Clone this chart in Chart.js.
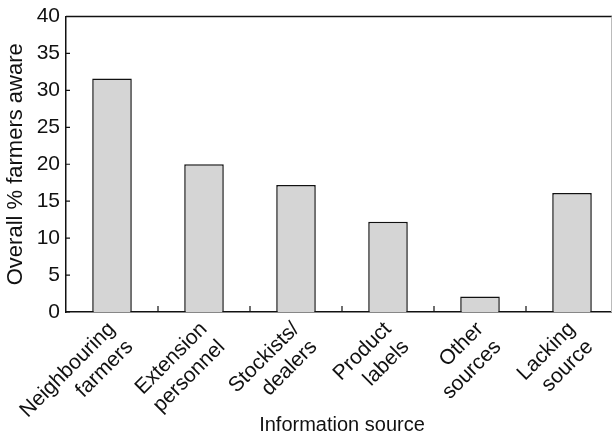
<!DOCTYPE html>
<html>
<head>
<meta charset="utf-8">
<script src="https://cdn.jsdelivr.net/npm/chart.js@4.4.1/dist/chart.umd.min.js"></script>
<style>
    html, body { margin: 0; padding: 0; background: #fff; overflow: hidden; }
    #wrap { width: 620px; height: 435px; }
</style>
</head>
<body>
<div id="wrap"><canvas id="chart" width="620" height="435"></canvas></div>
<script>
const categories = [
    ['Neighbouring', 'farmers'],
    ['Extension', 'personnel'],
    ['Stockists/', 'dealers'],
    ['Product', 'labels'],
    ['Other', 'sources'],
    ['Lacking', 'source']
];
const awareness = [31.6, 20.0, 17.2, 12.2, 2.1, 16.1];
const yTicks = [0, 5, 10, 15, 20, 25, 30, 35, 40];

const FONT = "'Liberation Sans', Arial, Helvetica, sans-serif";

// frame on top/right plus the small inward ticks
const frameTicks = {
    id: 'frameTicks',
    afterDraw(chart) {
        const ctx = chart.ctx;
        const a = chart.chartArea;
        const x = chart.scales.x;
        const y = chart.scales.y;
        ctx.save();
        ctx.strokeStyle = '#111';
        ctx.lineWidth = 1.5;
        ctx.beginPath();
        ctx.moveTo(a.left, a.top);
        ctx.lineTo(a.right, a.top);
        ctx.stroke();
        ctx.strokeStyle = '#bbb';
        ctx.lineWidth = 1;
        ctx.beginPath();
        ctx.moveTo(611.5, a.top);
        ctx.lineTo(611.5, a.bottom);
        ctx.stroke();

        ctx.strokeStyle = '#111';
        ctx.lineWidth = 1.2;
        ctx.beginPath();
        yTicks.forEach(function(v) {
            const py = y.getPixelForValue(v);
            ctx.moveTo(a.left, py);
            ctx.lineTo(a.left + 4, py);
        });
        for (let i = 1; i < categories.length; i++) {
            const px = (x.getPixelForValue(i - 1) + x.getPixelForValue(i)) / 2;
            ctx.moveTo(px, a.bottom);
            ctx.lineTo(px, a.bottom - 6);
        }
        ctx.stroke();
        ctx.restore();
    }
};

new Chart(document.getElementById('chart'), {
    type: 'bar',
    data: {
        labels: categories,
        datasets: [{
            data: awareness,
            backgroundColor: '#d5d5d5',
            borderColor: '#111',
            borderWidth: 1.5,
            borderSkipped: 'bottom',
            barPercentage: 0.43,
            categoryPercentage: 1.0
        }]
    },
    options: {
        responsive: false,
        animation: false,
        devicePixelRatio: 1,
        layout: { padding: { top: 15, right: 2, left: 0, bottom: 0 } },
        plugins: {
            legend: { display: false },
            tooltip: { enabled: false }
        },
        scales: {
            x: {
                grid: { display: false, drawTicks: false },
                border: { display: true, color: '#111', width: 1.5 },
                ticks: {
                    color: '#111',
                    font: { family: FONT, size: 21 },
                    minRotation: 45,
                    maxRotation: 45,
                    autoSkip: false,
                    padding: 5
                },
                title: {
                    display: true,
                    text: 'Information source',
                    color: '#111',
                    font: { family: FONT, size: 20 },
                    padding: { top: 0, bottom: -2 }
                },
                afterFit(s) { s.height = 123; }
            },
            y: {
                min: 0,
                max: 40,
                grid: { display: false, drawTicks: false },
                border: { display: true, color: '#111', width: 1.5 },
                ticks: {
                    stepSize: 5,
                    color: '#111',
                    font: { family: FONT, size: 21, lineHeight: 1 },
                    padding: 6
                },
                title: {
                    display: true,
                    text: 'Overall % farmers aware',
                    color: '#111',
                    font: { family: FONT, size: 22 },
                    padding: 3
                },
                afterFit(s) { s.width = 66; }
            }
        }
    },
    plugins: [frameTicks]
});
</script>
</body>
</html>
